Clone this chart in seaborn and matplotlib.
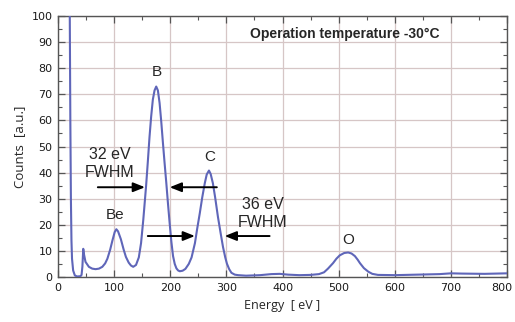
import matplotlib
matplotlib.use("Agg")
import matplotlib.pyplot as plt
from matplotlib.ticker import MultipleLocator, FuncFormatter
import seaborn as sns
import pandas as pd

# spectrum
energy = [19, 21, 22, 23, 24, 25, 27, 30, 34, 40, 42, 43.5, 45, 46.5, 49, 55, 61, 67,
          73, 79, 84, 88, 93, 97, 101, 104, 107, 112, 117, 121, 126, 130, 134, 139,
          144, 148, 152, 157, 160, 163, 166, 169, 172, 175, 178, 181, 184, 187, 190,
          193, 196, 199, 202, 205, 208, 211, 214, 217, 222, 227, 233, 238, 244, 248,
          252.6, 257, 261.5, 265, 269, 272, 276, 280, 285, 290, 294, 298, 301, 305,
          309, 315, 321, 335, 360, 380, 395, 410, 430, 450, 465, 474, 481, 490, 496,
          502, 510, 517, 523, 529, 534, 538, 545, 553, 560, 570, 600, 640, 680, 700,
          720, 760, 800]
counts = [150, 100, 60, 30, 14, 7, 2.5, 0.6, 0.2, 0.3, 0.8, 4, 10.8, 8.5, 5.8, 3.9, 3.2,
          3.0, 3.2, 3.9, 5.2, 7, 10.5, 14, 17.2, 18.3, 17.5, 14.5, 10.5, 7.7, 5.5, 4.4,
          3.9, 4.6, 7.5, 13, 22, 35, 44, 53.5, 61.5, 68, 71.5, 73, 71.5, 66.7, 59.5,
          51.3, 43.5, 36, 28, 20.5, 13.5, 8, 5, 3.3, 2.5, 2.2, 2.4, 3.1, 5, 7.5, 13,
          18.5, 24.4, 30.5, 35.9, 39.3, 40.8, 39.5, 35.9, 30.5, 23, 16.5, 11.5, 7.5,
          5.1, 3, 1.6, 0.9, 0.7, 0.5, 0.7, 1.1, 1.2, 0.9, 0.7, 0.8, 1.1, 1.8, 3.2, 5.3,
          7, 8.3, 9.2, 9.4, 9, 8.0, 6.6, 5.3, 3.4, 2, 1.2, 0.8, 0.7, 0.9, 1.1, 1.4,
          1.3, 1.2, 1.4]

peak_names = ["Be", "B", "C", "O"]
peak_x = [101, 176.5, 270, 517]
peak_y = [23.7, 78.4, 45.9, 14.1]

fwhm_labels = ["32 eV\nFWHM", "36 eV\nFWHM"]
fwhm_text_x = [92, 365]
fwhm_text_y = [43.5, 24.5]
fwhm_y = [34.4, 15.7]
fwhm_tail_left = [71, 160]
fwhm_tip_left = [155, 244]
fwhm_tail_right = [283, 377]
fwhm_tip_right = [199, 297]

x_max = 800

df = pd.DataFrame({"Energy": energy, "Counts": counts})

sns.set_style("ticks")
fig = plt.figure(figsize=(5.15, 3.22), dpi=100)
ax = fig.add_axes([0.1126, 0.1398, 0.8719, 0.8102])

sns.lineplot(data=df, x="Energy", y="Counts", ax=ax, color="#5f66b9",
             linewidth=1.5, zorder=3)

ax.set_xlim(0, x_max)
ax.set_ylim(0, 100)
ax.xaxis.set_major_locator(MultipleLocator(100))
ax.xaxis.set_minor_locator(MultipleLocator(50))
ax.yaxis.set_major_locator(MultipleLocator(10))
ax.yaxis.set_minor_locator(MultipleLocator(5))
# last x label is drawn separately so it stays inside the figure
ax.xaxis.set_major_formatter(FuncFormatter(lambda v, p: "" if v >= x_max else f"{v:.0f}"))
ax.grid(True, which="major", color="#d6c6c6", linewidth=0.9, zorder=0)
ax.tick_params(which="both", direction="in", top=True, right=True,
               color="#555555", labelsize=8, labelcolor="#1a1a1a", pad=4)
ax.tick_params(which="major", length=5, width=0.9)
ax.tick_params(which="minor", length=3, width=0.8)
for sp in ax.spines.values():
    sp.set_color("#555555")
    sp.set_linewidth(1.0)

ax.annotate(f"{x_max}", xy=(x_max, 0), xytext=(-4, -4), textcoords="offset points",
            ha="center", va="top", fontsize=8, color="#1a1a1a",
            annotation_clip=False)

ax.set_xlabel("Energy  [ eV ]", fontsize=9, family="Open Sans", labelpad=5)
ax.set_ylabel("Counts  [a.u.]", fontsize=9.5, family="Open Sans", labelpad=4)

ax.text(511, 93.2, "Operation temperature -30°C", fontsize=10, fontweight="bold",
        family="Liberation Sans", ha="center", va="center")

for name, px, py in zip(peak_names, peak_x, peak_y):
    ax.text(px, py, name, fontsize=11, family="Liberation Sans",
            ha="center", va="center")

arrow = dict(arrowstyle="-|>,head_length=0.7,head_width=0.28", color="black",
             lw=1.4, shrinkA=0, shrinkB=0)
for i in range(2):
    ax.text(fwhm_text_x[i], fwhm_text_y[i], fwhm_labels[i], fontsize=11.5,
            family="Liberation Sans", ha="center", va="center", linespacing=1.25)
    ax.annotate("", xy=(fwhm_tip_left[i], fwhm_y[i]),
                xytext=(fwhm_tail_left[i], fwhm_y[i]), arrowprops=arrow)
    ax.annotate("", xy=(fwhm_tip_right[i], fwhm_y[i]),
                xytext=(fwhm_tail_right[i], fwhm_y[i]), arrowprops=arrow)

fig.savefig("out.png", dpi=100)
